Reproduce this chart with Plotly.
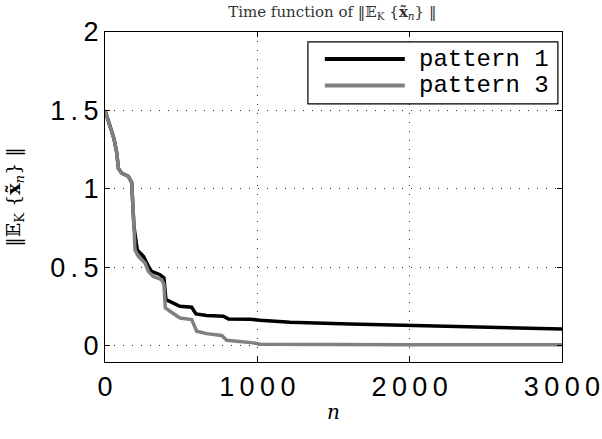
import plotly.graph_objects as go

# pattern 1 (black)
n_p1 = [0, 33, 59, 77, 88, 109, 153, 175, 181, 190, 212, 252, 285, 306, 361, 387, 400,
        449, 492, 569, 597, 667, 777, 810, 952, 1018, 1215, 1608, 2002, 2199, 2615, 3000]
v_p1 = [1.50, 1.40, 1.32, 1.23, 1.13, 1.10, 1.08, 1.04, 0.95, 0.76, 0.61, 0.57, 0.505, 0.473,
        0.452, 0.431, 0.293, 0.272, 0.25, 0.244, 0.202, 0.191, 0.187, 0.17, 0.168, 0.161,
        0.148, 0.138, 0.129, 0.123, 0.113, 0.106]

# pattern 3 (gray)
n_p3 = [0, 33, 59, 77, 88, 109, 153, 175, 181, 190, 197, 219, 263, 284, 317, 372, 387, 396,
        427, 460, 492, 569, 584, 602, 667, 766, 799, 908, 974, 1018, 1300, 2000, 3000]
v_p3 = [1.50, 1.40, 1.32, 1.23, 1.13, 1.10, 1.08, 1.04, 0.95, 0.76, 0.61, 0.569, 0.527,
        0.473, 0.441, 0.42, 0.389, 0.24, 0.219, 0.197, 0.176, 0.166, 0.134, 0.091, 0.076,
        0.064, 0.034, 0.025, 0.017, 0.008, 0.006, 0.005, 0.005]

series_names = ["pattern 1", "pattern 3"]
series_colors = ["black", "#808080"]

x_ticks = [0, 1000, 2000, 3000]
x_ticklabels = ["0", "1000", "2000", "3000"]
y_ticks = [0, 0.5, 1, 1.5, 2]
y_ticklabels = ["0", "0.5", "1", "1.5", "2"]

SP = "\u2009"


def spaced(s):
    return SP.join(list(s))


fig = go.Figure()
for xs, ys, name, col in zip([n_p1, n_p3], [v_p1, v_p3], series_names, series_colors):
    fig.add_trace(go.Scatter(x=xs, y=ys, mode="lines", name=name,
                             line=dict(color=col, width=3.5), showlegend=False))

axis_common = dict(
    showline=True, linecolor="black", linewidth=1.2, mirror="ticks",
    ticks="inside", ticklen=5, tickcolor="black",
    showgrid=True, gridcolor="rgba(0,0,0,0.8)", griddash="1px,8px", gridwidth=1,
    zeroline=False, automargin=False,
    tickfont=dict(family="Liberation Sans", size=27, color="black"),
)

fig.update_xaxes(range=[0, 3000], tickvals=x_ticks,
                 ticktext=[spaced(t) for t in x_ticklabels],
                 title=dict(text="<i>n</i>", font=dict(family="DejaVu Serif", size=20, color="black"),
                            standoff=4),
                 **axis_common)
fig.update_yaxes(range=[-0.105, 2], tickvals=y_ticks,
                 ticktext=[spaced(t) for t in y_ticklabels],
                 title=dict(text="‖𝔼<sub>K</sub> {<b>x̃</b><sub><i>n</i></sub>} ‖",
                            font=dict(family="DejaVu Serif", size=19, color="black"),
                            standoff=24),
                 **axis_common)

# legend box drawn inside the axes (upper right)
box = dict(x0=0.444, x1=0.991, y0=0.782, y1=0.970)
row_y = [0.918, 0.838]
shapes = [dict(type="rect", xref="paper", yref="paper", line=dict(color="black", width=1.2),
               fillcolor="white", layer="above", **box)]
annotations = []
for name, col, ry in zip(series_names, series_colors, row_y):
    shapes.append(dict(type="line", xref="paper", yref="paper", x0=0.481, x1=0.656,
                       y0=ry, y1=ry, line=dict(color=col, width=4), layer="above"))
    annotations.append(dict(text=name, xref="paper", yref="paper", x=0.683, y=ry,
                            xanchor="left", yanchor="middle", showarrow=False,
                            font=dict(family="Liberation Mono", size=24, color="black")))

fig.update_layout(
    width=602, height=439,
    margin=dict(l=105, r=40, t=32, b=77),
    plot_bgcolor="white", paper_bgcolor="white",
    title=dict(text="Time function of ‖𝔼<sub>K</sub> {<b>x̃</b><sub><i>n</i></sub>} ‖",
               x=0.552, xanchor="center", y=0.985, yanchor="top",
               font=dict(family="DejaVu Serif", size=15, color="#333")),
    shapes=shapes,
    annotations=annotations,
    showlegend=False,
)

fig.write_html("out.html", config={"displayModeBar": False},
               post_script="document.body.style.margin='0';")
